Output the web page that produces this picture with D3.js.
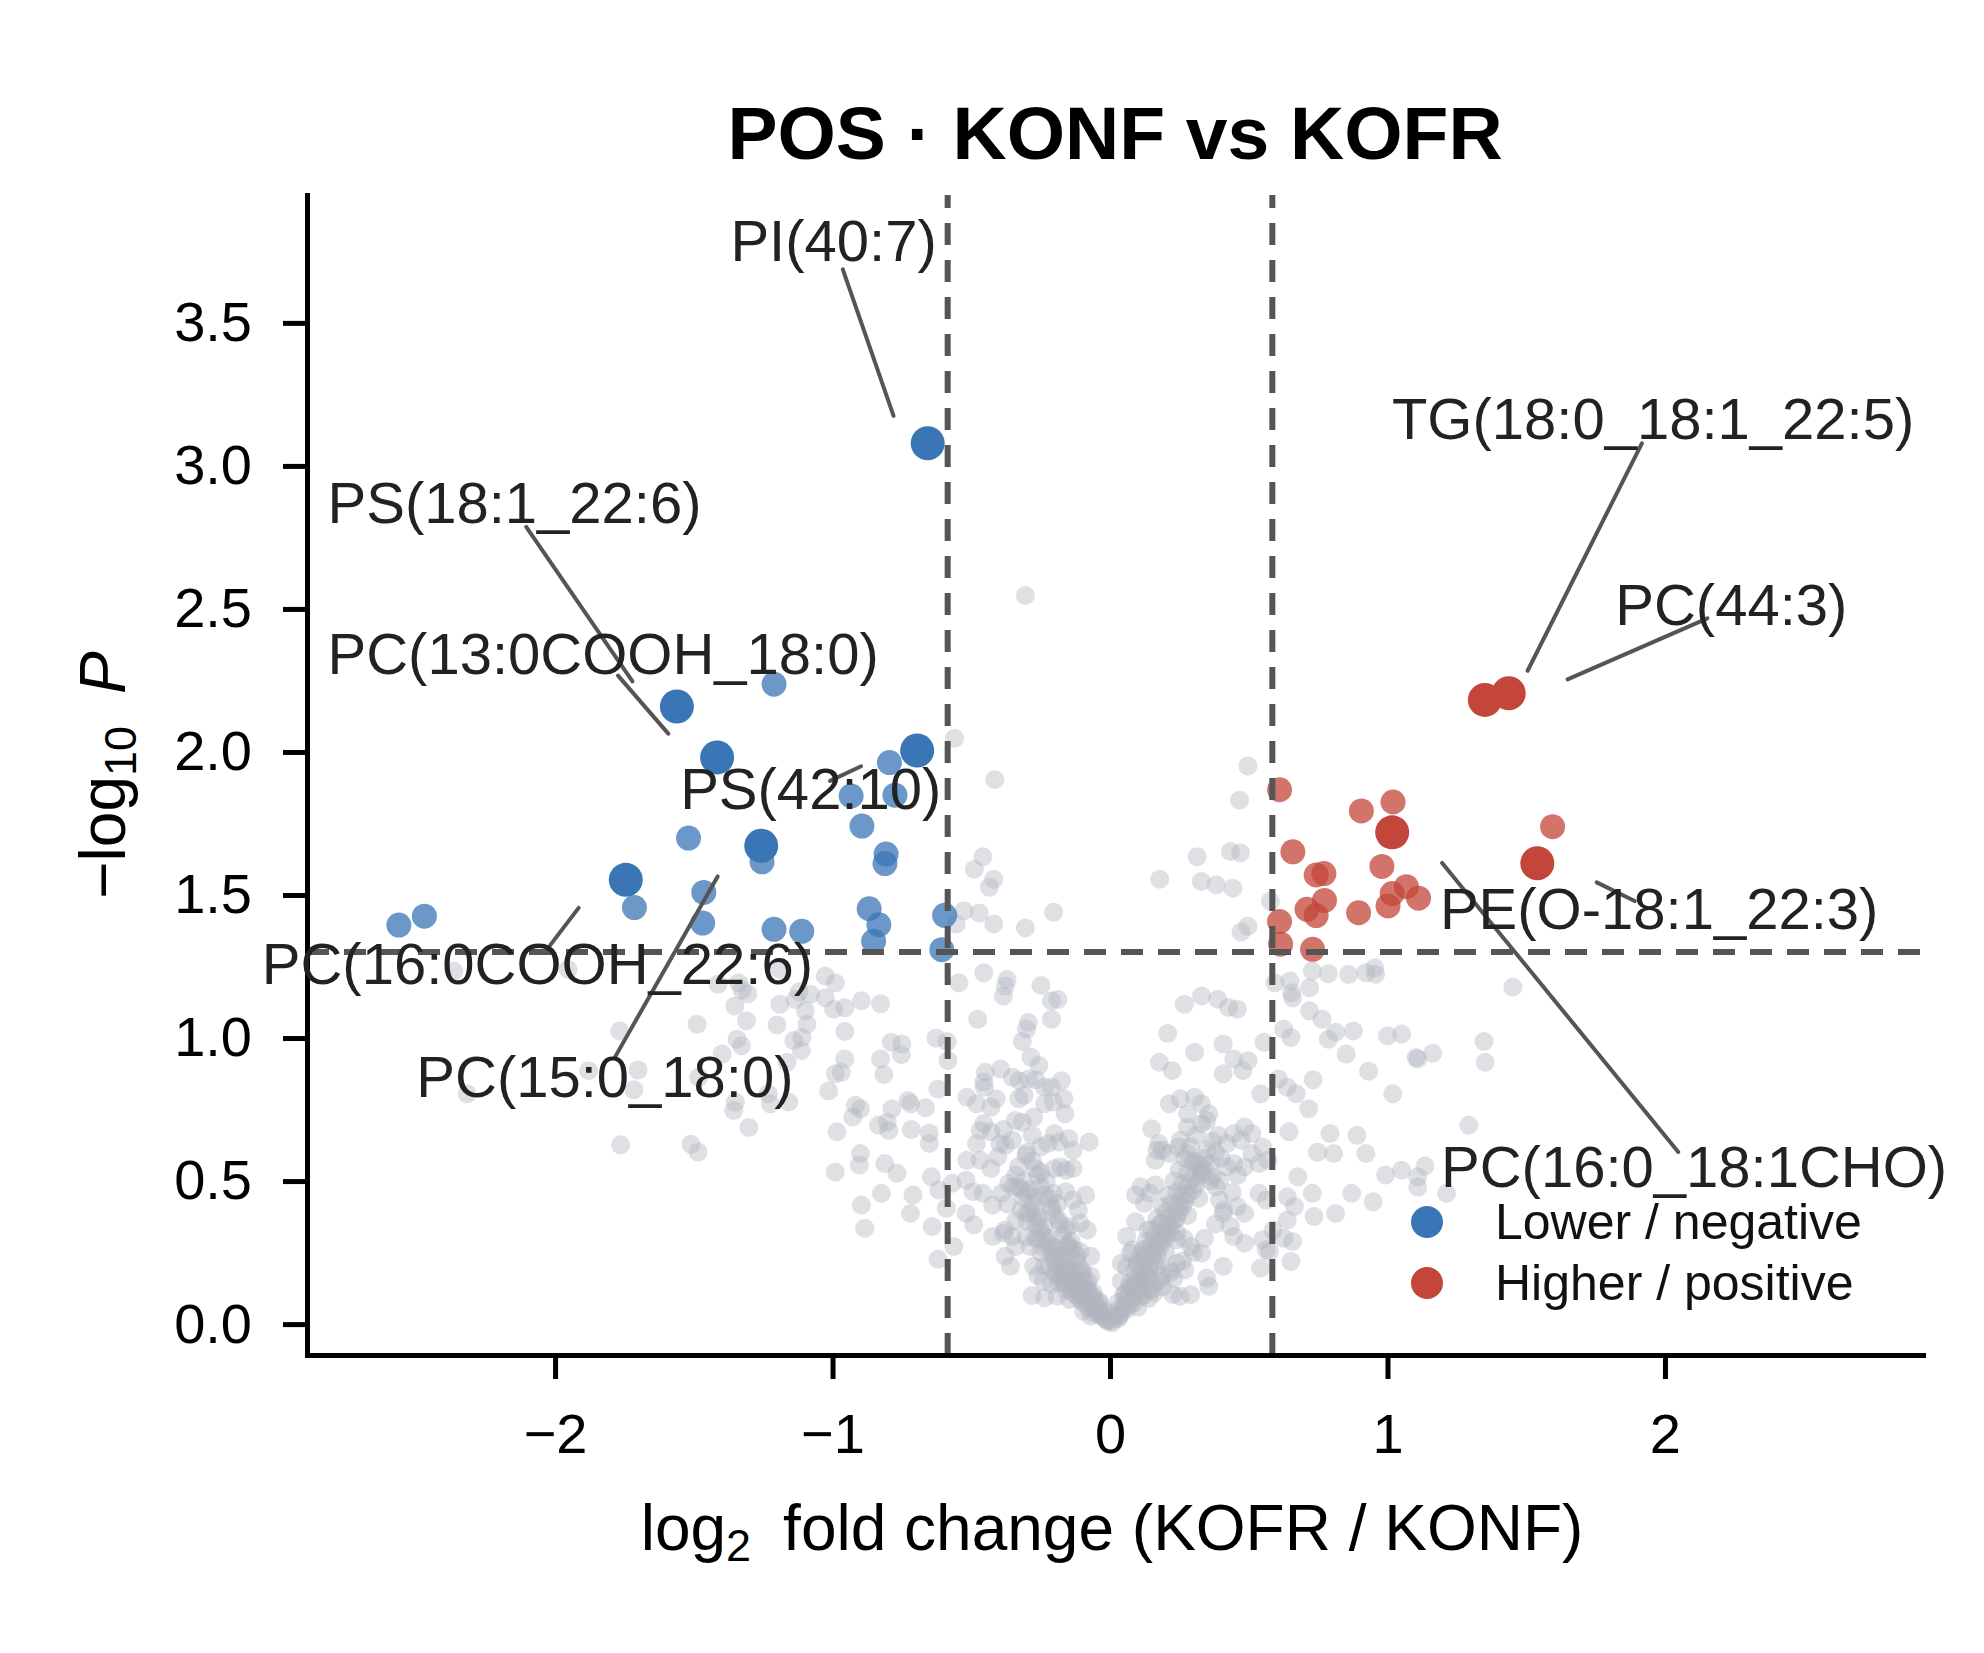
<!DOCTYPE html>
<html>
<head>
<meta charset="utf-8">
<script src="https://cdn.jsdelivr.net/npm/d3@7"></script>
<style>
  html, body { margin: 0; padding: 0; background: #ffffff; }
  svg { display: block; }
  text { font-family: "Liberation Sans", Arial, Helvetica, sans-serif; }
</style>
</head>
<body>
<svg id="chart" width="1984" height="1653"></svg>
<script>
// ---------------- DATA ----------------
const titleText = "POS \u00b7 KONF vs KOFR";
const xTicks = [-2, -1, 0, 1, 2];
const yTicks = [0, 0.5, 1.0, 1.5, 2.0, 2.5, 3.0, 3.5];
const fcThreshold = 0.585;      // log2(1.5)
const pThreshold = 1.301;       // -log10(0.05)
const legendLabels = ["Lower / negative", "Higher / positive"];

// non-significant lipids [log2FC, -log10 P]
const grayPoints = [
  [-0.305,2.547],[-0.560,2.048],[-0.415,1.904],[0.497,1.951],[0.467,1.831],[-0.458,1.634],[-0.489,1.590],
  [-0.419,1.555],[-0.435,1.527],[-0.526,1.445],[-0.471,1.437],[-0.554,1.399],[-0.419,1.399],[-0.305,1.385],
  [-0.203,1.440],[0.179,1.555],[0.314,1.634],[0.329,1.547],[0.383,1.536],[0.443,1.524],[0.434,1.652],
  [0.470,1.648],[0.578,1.478],[0.497,1.391],[0.472,1.371],
  [-1.953,1.240],[-1.413,1.188],[-1.338,1.193],[-1.305,1.155],[-1.352,1.112],[-1.310,1.060],[-1.488,1.048],
  [-1.767,1.025],[-1.190,1.118],[-1.200,1.046],[-1.134,1.135],[-1.098,1.095],[-1.092,1.048],[-1.110,1.002],
  [-1.140,0.991],[-1.112,0.956],[-1.080,1.153],[-1.026,1.217],[-0.990,1.193],[-1.026,1.141],[-0.996,1.101],
  [-0.956,1.106],[-0.896,1.130],[-0.827,1.120],[-0.956,1.023],[-1.344,0.996],[-1.328,0.973],[-1.398,0.944],
  [-1.482,0.863],[-1.164,0.915],[-1.701,0.888],[-1.879,0.886],[-1.716,0.819],[-1.350,0.776],[-1.356,0.747],
  [-1.232,0.805],[-1.224,0.770],[-1.158,0.776],[-1.302,0.687],[-1.764,0.627],[-1.510,0.629],[-1.485,0.602],
  [-1.014,0.815],[-0.990,0.875],[-0.968,0.880],[-0.956,0.927],[-0.827,0.927],[-0.815,0.872],[-0.788,0.985],
  [-0.750,0.979],[-0.752,0.942],[-0.917,0.765],[-0.899,0.753],[-0.927,0.724],[-0.984,0.672],[-0.834,0.695],
  [-0.803,0.706],[-0.797,0.677],[-0.786,0.753],[-0.728,0.782],[-0.719,0.770],[-0.665,0.756],[-0.716,0.680],
  [-0.651,0.668],[-0.651,0.631],[-0.627,0.999],[-0.587,0.988],[-0.584,0.921],[-0.620,0.822],[-0.899,0.596],
  [-0.903,0.556],[-0.812,0.561],[-0.768,0.527],[-0.990,0.532],[-0.824,0.457],[-0.896,0.416],[-0.884,0.335],
  [-0.710,0.451],[-0.719,0.387],[-0.644,0.515],[-0.617,0.469],[-0.590,0.405],[-0.641,0.341],[-0.620,0.227],
  [-0.569,0.492],[-0.563,0.271],[-1.190,1.240],[-2.365,1.234],[-2.317,0.805],[-1.326,1.168],[-1.120,1.162],
  [-0.545,1.193],[-0.455,1.228],[-0.371,1.205],[-0.377,1.182],[-0.384,1.147],[-0.249,1.184],[-0.211,1.130],
  [-0.188,1.135],[-0.211,1.066],[-0.477,1.066],[-0.294,1.054],[-0.301,1.031],[-0.316,0.988],[-0.285,0.933],
  [-0.256,0.904],[-0.449,0.880],[-0.394,0.892],[-0.455,0.846],[-0.453,0.828],[-0.352,0.863],[-0.327,0.851],
  [-0.294,0.857],[-0.268,0.854],[-0.236,0.828],[-0.211,0.828],[-0.175,0.851],[-0.516,0.793],[-0.481,0.770],
  [-0.410,0.788],[-0.429,0.759],[-0.329,0.788],[-0.310,0.799],[-0.236,0.770],[-0.204,0.776],[-0.166,0.788],
  [-0.162,0.735],[-0.275,0.724],[-0.316,0.706],[-0.342,0.712],[-0.455,0.701],[-0.468,0.677],[-0.429,0.672],
  [-0.384,0.680],[-0.397,0.631],[-0.377,0.625],[-0.352,0.643],[-0.481,0.631],[-0.516,0.573],[-0.468,0.573],
  [-0.429,0.544],[-0.404,0.585],[-0.303,0.590],[-0.200,0.666],[-0.223,0.631],[-0.185,0.637],[-0.149,0.649],
  [-0.133,0.608],[-0.075,0.637],[-0.268,0.544],[-0.249,0.532],[-0.200,0.544],[-0.178,0.550],[-0.159,0.538],
  [-0.133,0.544],[-0.519,0.503],[-0.494,0.463],[-0.458,0.457],[-0.423,0.416],[-0.391,0.457],[-0.365,0.492],
  [-0.333,0.480],[-0.519,0.387],[-0.491,0.347],[-0.423,0.306],[-0.378,0.329],[-0.301,0.457],[-0.268,0.445],
  [-0.236,0.451],[-0.204,0.457],[-0.159,0.463],[-0.133,0.434],[-0.088,0.451],[-0.114,0.399],[-0.301,0.387],
  [-0.262,0.376],[-0.211,0.399],[-0.185,0.364],[-0.146,0.341],[-0.108,0.353],[-0.082,0.329],[-0.384,0.318],
  [-0.352,0.306],[-0.301,0.306],[-0.340,0.271],[-0.378,0.237],[-0.359,0.202],[-0.288,0.271],[-0.236,0.266],
  [-0.198,0.260],[-0.146,0.271],[-0.108,0.254],[-0.069,0.237],[-0.275,0.202],[-0.236,0.202],[-0.198,0.213],
  [-0.166,0.202],[-0.133,0.190],[-0.101,0.179],[-0.069,0.167],[-0.281,0.100],[-0.236,0.092],[-0.185,0.144],
  [-0.159,0.121],[-0.133,0.109],[-0.108,0.086],[-0.082,0.068],[-0.056,0.051],[-0.030,0.028],[-0.005,0.010],
  [-0.172,0.173],[-0.133,0.155],[-0.114,0.132],[-0.082,0.121],[-0.062,0.097],[-0.037,0.074],[-0.017,0.045],
  [-0.191,0.097],[-0.146,0.086],[-0.095,0.045],[-0.069,0.028],
  [-0.30,0.60],[-0.28,0.57],[-0.26,0.52],[-0.25,0.48],[-0.23,0.50],[-0.22,0.44],[-0.21,0.41],[-0.20,0.38],
  [-0.19,0.42],[-0.18,0.35],[-0.17,0.31],[-0.16,0.33],[-0.15,0.28],[-0.14,0.24],[-0.13,0.26],[-0.12,0.22],
  [-0.11,0.19],[-0.10,0.16],[-0.09,0.14],[-0.08,0.12],[-0.07,0.10],[-0.06,0.085],[-0.05,0.07],[-0.04,0.055],
  [-0.03,0.04],[-0.02,0.025],[-0.01,0.012],[-0.16,0.22],[-0.14,0.18],[-0.12,0.15],[-0.10,0.12],[-0.09,0.09],
  [-0.24,0.34],[-0.22,0.30],[-0.20,0.27],[-0.18,0.24],[-0.27,0.40],[-0.26,0.36],[-0.31,0.44],[-0.29,0.47],
  [-0.33,0.55],[-0.35,0.48],[-0.37,0.42],[-0.30,0.36],[-0.27,0.30],[-0.25,0.25],[-0.22,0.20],[-0.19,0.18],
  [-0.17,0.15],[-0.21,0.14],[-0.24,0.15],[-0.26,0.17],[-0.32,0.40],[-0.34,0.36],[-0.28,0.66],[-0.25,0.62],
  [-0.02,0.02],[-0.04,0.035],[-0.05,0.05],[-0.06,0.06],[-0.07,0.075],[-0.08,0.09],[-0.09,0.105],[-0.10,0.10],
  [-0.11,0.13],[-0.12,0.12],[-0.13,0.14],[-0.14,0.15],[-0.15,0.17],[-0.16,0.19],[-0.17,0.18],[-0.18,0.20],
  [-0.19,0.22],[-0.20,0.23],[-0.21,0.25],[-0.22,0.27],[-0.23,0.29],[-0.24,0.31],[-0.25,0.33],[-0.26,0.30],
  [-0.27,0.35],[-0.28,0.42],[-0.29,0.39],[-0.31,0.50],[-0.32,0.47],[-0.34,0.52],[-0.06,0.04],[-0.08,0.06],
  [-0.10,0.08],[-0.12,0.10],[-0.14,0.12],[-0.16,0.14],[-0.18,0.16],[-0.20,0.18],[-0.04,0.08],[-0.06,0.11],
  [-0.08,0.15],[-0.10,0.19],[-0.12,0.24],[-0.14,0.29],[-0.16,0.27],
  [0.008,0.005],[0.034,0.028],[0.060,0.051],[0.085,0.074],[0.111,0.097],[0.137,0.121],[0.163,0.144],
  [0.188,0.167],[0.214,0.190],[0.240,0.213],[0.028,0.074],[0.054,0.109],[0.073,0.132],[0.111,0.155],
  [0.124,0.184],[0.098,0.213],[0.073,0.248],[0.124,0.237],[0.150,0.271],[0.176,0.295],[0.041,0.213],
  [0.060,0.306],[0.092,0.451],[0.111,0.480],[0.124,0.422],[0.144,0.457],[0.163,0.486],[0.092,0.358],
  [0.137,0.329],[0.188,0.353],[0.201,0.318],[0.240,0.295],[0.266,0.300],[0.291,0.271],[0.330,0.248],
  [0.349,0.161],[0.356,0.132],[0.291,0.103],[0.227,0.103],[0.253,0.097],[0.150,0.683],[0.176,0.631],
  [0.170,0.608],[0.163,0.573],[0.188,0.608],[0.214,0.596],[0.246,0.619],[0.214,0.770],[0.253,0.788],
  [0.305,0.793],[0.279,0.735],[0.279,0.689],[0.330,0.770],[0.356,0.735],[0.349,0.712],[0.253,0.643],
  [0.279,0.596],[0.305,0.561],[0.330,0.550],[0.330,0.527],[0.369,0.515],[0.395,0.503],[0.382,0.480],
  [0.421,0.631],[0.446,0.666],[0.485,0.689],[0.511,0.666],[0.472,0.643],[0.446,0.561],[0.485,0.550],
  [0.511,0.596],[0.537,0.561],[0.550,0.619],[0.569,0.573],[0.395,0.434],[0.408,0.387],[0.434,0.341],
  [0.459,0.411],[0.485,0.387],[0.537,0.457],[0.563,0.434],[0.446,0.306],[0.485,0.283],[0.408,0.202],
  [0.550,0.295],[0.563,0.260],[0.543,0.196],[0.208,1.016],[0.178,0.915],[0.224,0.886],[0.305,0.950],
  [0.330,1.147],[0.388,1.136],[0.427,1.107],[0.459,1.101],[0.268,1.118],[0.408,0.979],[0.446,0.927],
  [0.498,0.921],[0.479,0.886],[0.408,0.875],[0.555,0.985],[0.543,0.805],
  [0.02,0.03],[0.03,0.05],[0.05,0.07],[0.06,0.09],[0.07,0.11],[0.08,0.13],[0.10,0.15],[0.11,0.17],
  [0.12,0.20],[0.13,0.22],[0.15,0.24],[0.16,0.26],[0.17,0.28],[0.18,0.31],[0.20,0.33],[0.21,0.35],
  [0.22,0.38],[0.24,0.40],[0.25,0.43],[0.26,0.45],[0.28,0.48],[0.29,0.50],[0.31,0.53],[0.32,0.56],
  [0.34,0.58],[0.35,0.61],[0.37,0.64],[0.39,0.66],[0.09,0.19],[0.11,0.24],[0.13,0.29],[0.15,0.33],
  [0.17,0.37],[0.19,0.41],[0.21,0.45],[0.23,0.50],[0.25,0.54],[0.27,0.58],[0.29,0.62],[0.31,0.66],
  [0.33,0.70],[0.12,0.10],[0.15,0.12],[0.18,0.15],[0.22,0.18],[0.26,0.22],[0.30,0.25],[0.34,0.30],
  [0.38,0.35],[0.41,0.40],[0.44,0.46],[0.46,0.52],[0.42,0.55],[0.40,0.58],[0.36,0.50],[0.32,0.44],
  [0.28,0.38],[0.24,0.32],[0.20,0.25],[0.17,0.20],[0.14,0.16],[0.04,0.15],[0.06,0.20],[0.08,0.26],
  [0.01,0.015],[0.03,0.02],[0.04,0.04],[0.05,0.055],[0.07,0.07],[0.08,0.09],[0.09,0.11],[0.10,0.13],
  [0.11,0.12],[0.12,0.15],[0.13,0.17],[0.14,0.19],[0.15,0.21],[0.16,0.22],[0.17,0.24],[0.18,0.27],
  [0.19,0.29],[0.20,0.30],[0.21,0.32],[0.22,0.34],[0.23,0.36],[0.24,0.37],[0.25,0.39],[0.26,0.41],
  [0.27,0.43],[0.28,0.45],[0.30,0.47],[0.31,0.49],[0.33,0.52],[0.34,0.54],[0.36,0.56],[0.38,0.60],
  [0.05,0.10],[0.07,0.14],[0.09,0.16],[0.10,0.21],[0.12,0.26],[0.14,0.27],[0.16,0.31],[0.18,0.35],
  [0.20,0.39],[0.22,0.42],[0.24,0.46],[0.26,0.49],[0.28,0.53],[0.30,0.57],[0.10,0.06],[0.14,0.09],
  [0.16,0.11],[0.19,0.13],[0.23,0.16],[0.27,0.19],
  [0.594,1.193],[0.649,1.199],[0.654,1.158],[0.658,1.141],[0.719,1.176],[0.729,1.234],[0.787,1.225],
  [0.860,1.222],[0.922,1.228],[0.954,1.246],[0.957,1.223],[0.719,1.095],[0.764,1.066],[0.813,1.020],
  [0.787,0.996],[0.877,1.025],[0.851,0.944],[1.000,1.008],[1.051,1.014],[1.103,0.932],[0.626,1.031],
  [0.652,1.002],[0.607,0.857],[0.639,0.828],[0.671,0.805],[0.716,0.753],[0.732,0.854],[0.932,0.884],
  [1.019,0.805],[0.645,0.672],[0.677,0.515],[0.748,0.601],[0.793,0.666],[0.806,0.596],[0.890,0.660],
  [0.922,0.596],[0.993,0.521],[1.051,0.538],[1.109,0.515],[0.639,0.445],[0.665,0.411],[0.729,0.457],
  [0.639,0.364],[0.626,0.300],[0.658,0.289],[0.735,0.376],[0.813,0.387],[0.871,0.457],[0.948,0.428],
  [0.652,0.219],[0.575,0.254],[0.588,0.329],
  [1.452,1.178],[1.348,0.988],[1.352,0.915],[1.109,0.927],[1.163,0.947],[1.293,0.695],[1.135,0.553],
  [1.213,0.457],[1.109,0.479]
];

// significant, lower (blue) and higher (red); "Top" = labelled
const blueTop = [[-0.657,3.079],[-1.561,2.159],[-1.416,1.981],[-0.695,2.005],[-1.257,1.672],[-1.745,1.553]];
const blueOther = [
  [-1.211,2.237],[-0.795,1.963],[-0.775,1.849],[-0.933,1.846],[-1.519,1.699],[-0.894,1.741],[-0.807,1.643],
  [-0.811,1.610],[-1.254,1.616],[-1.714,1.456],[-1.464,1.509],[-1.468,1.402],[-2.563,1.395],[-2.471,1.426],
  [-1.211,1.380],[-1.111,1.373],[-0.868,1.452],[-0.833,1.396],[-0.852,1.338],[-0.596,1.429],[-0.606,1.309]
];
const redTop = [[1.351,2.182],[1.437,2.205],[1.017,1.719],[1.540,1.611]];
const redOther = [
  [0.611,1.868],[0.906,1.794],[1.020,1.825],[1.595,1.739],[0.659,1.651],[0.980,1.600],[0.743,1.570],
  [0.771,1.575],[0.773,1.481],[0.710,1.450],[0.743,1.428],[0.896,1.438],[1.002,1.462],[1.017,1.505],
  [1.068,1.529],[1.112,1.489],[0.611,1.407],[0.615,1.328],[0.730,1.310]
];

// annotation labels (text anchor = left/baseline, in data units) and leader segments
const annLabels = ["PI(40:7)","PS(18:1_22:6)","PC(13:0COOH_18:0)","PS(42:10)","PC(16:0COOH_22:6)",
                   "PC(15:0_18:0)","TG(18:0_18:1_22:5)","PC(44:3)","PE(O-18:1_22:3)","PC(16:0_18:1CHO)"];
const annTextX = [-1.368,-2.820,-2.820,-1.549,-3.057,-2.500,1.016,1.821,1.189,1.193];
const annTextY = [3.717,2.800,2.274,1.802,1.190,0.795,3.093,2.444,1.381,0.480];
const annLineFrom = [[-0.963,3.687],[-2.104,2.787],[-1.773,2.267],[-1.009,1.899],[-2.018,1.324],
                     [-1.783,0.935],[1.917,3.079],[2.153,2.467],[1.754,1.544],[1.197,1.612]];
const annLineTo   = [[-0.780,3.175],[-1.721,2.247],[-1.592,2.064],[-0.897,1.950],[-1.915,1.455],
                     [-1.414,1.565],[1.505,2.284],[1.649,2.254],[1.891,1.479],[2.048,0.602]];

// ---------------- DRAW ----------------
const BLUE = "#3a76b6", RED = "#c4463a", GRAY = "#b0b5bf";
const svg = d3.select("#chart");
svg.append("rect").attr("width", 1984).attr("height", 1653).attr("fill", "#fff");

const x = d3.scaleLinear().domain([-2.894, 2.93]).range([307, 1923]);
const y = d3.scaleLinear().domain([-0.108, 3.947]).range([1355, 195]);

// gray points
svg.append("g").selectAll("circle").data(grayPoints).join("circle")
  .attr("cx", d => x(d[0])).attr("cy", d => y(d[1])).attr("r", 9.5)
  .attr("fill", GRAY).attr("fill-opacity", 0.42);

// colored points
function dots(data, color, r, op) {
  svg.append("g").selectAll("circle").data(data).join("circle")
    .attr("cx", d => x(d[0])).attr("cy", d => y(d[1])).attr("r", r)
    .attr("fill", color).attr("fill-opacity", op);
}
dots(blueOther, BLUE, 12.5, 0.75);
dots(redOther, RED, 12.5, 0.75);
dots(blueTop, BLUE, 17, 1);
dots(redTop, RED, 17, 1);

// threshold lines
const gl = svg.append("g").attr("stroke", "#555").attr("stroke-width", 6).attr("stroke-dasharray", "22,15").attr("fill", "none");
[-fcThreshold, fcThreshold].forEach(v => {
  gl.append("line").attr("x1", x(v)).attr("x2", x(v)).attr("y1", y.range()[0]).attr("y2", y.range()[1]);
});
gl.append("line").attr("x1", x.range()[0]).attr("x2", x.range()[1]).attr("y1", y(pThreshold)).attr("y2", y(pThreshold));

// axes
const xAxis = svg.append("g").attr("transform", `translate(0,${y.range()[0]})`)
  .call(d3.axisBottom(x).tickValues(xTicks).tickSize(24).tickSizeOuter(0).tickPadding(34)
        .tickFormat(d3.format("d")));
const yAxis = svg.append("g").attr("transform", `translate(${x.range()[0]},0)`)
  .call(d3.axisLeft(y).tickValues(yTicks).tickSize(24).tickSizeOuter(0).tickPadding(31)
        .tickFormat(d3.format(".1f")));
[xAxis, yAxis].forEach(g => {
  g.select(".domain").attr("stroke", "#000").attr("stroke-width", 5).attr("stroke-linecap", "square");
  g.selectAll(".tick line").attr("stroke", "#000").attr("stroke-width", 5);
  g.selectAll(".tick text").attr("fill", "#000").attr("font-size", 56)
    .attr("font-family", "'Liberation Sans', Arial, sans-serif");
});

// leader lines
svg.append("g").selectAll("line").data(annLabels).join("line")
  .attr("x1", (d, i) => x(annLineFrom[i][0])).attr("y1", (d, i) => y(annLineFrom[i][1]))
  .attr("x2", (d, i) => x(annLineTo[i][0])).attr("y2", (d, i) => y(annLineTo[i][1]))
  .attr("stroke", "#555").attr("stroke-width", 4).attr("stroke-linecap", "round");

// annotation labels
svg.append("g").selectAll("text").data(annLabels).join("text")
  .attr("x", (d, i) => x(annTextX[i])).attr("y", (d, i) => y(annTextY[i]))
  .attr("font-size", 58).attr("fill", "#222").text(d => d);

// title
svg.append("text").attr("x", (x.range()[0] + x.range()[1]) / 2).attr("y", 159)
  .attr("text-anchor", "middle").attr("font-size", 75).attr("font-weight", "bold").attr("fill", "#000")
  .text(titleText);

// x label
const xl = svg.append("text").attr("x", 1112).attr("y", 1550).attr("text-anchor", "middle")
  .attr("font-size", 64).attr("fill", "#000");
xl.append("tspan").text("log");
xl.append("tspan").attr("font-size", 45).attr("dy", 11).text("2");
xl.append("tspan").attr("dy", -11).text("\u2002fold change (KOFR / KONF)");

// y label
const yl = svg.append("text").attr("transform", `translate(125,${(y.range()[0] + y.range()[1]) / 2}) rotate(-90)`)
  .attr("text-anchor", "middle").attr("font-size", 64).attr("fill", "#000");
yl.append("tspan").text("\u2212log");
yl.append("tspan").attr("font-size", 45).attr("dy", 11).text("10");
yl.append("tspan").attr("dy", -11).text("\u2002");
yl.append("tspan").attr("font-style", "italic").text("P");

// legend
const legColors = [BLUE, RED];
const lg = svg.append("g");
legendLabels.forEach((t, i) => {
  const cy = 1222 + i * 61;
  lg.append("circle").attr("cx", 1427).attr("cy", cy).attr("r", 16).attr("fill", legColors[i]);
  lg.append("text").attr("x", 1495).attr("y", cy + 17).attr("font-size", 50).attr("fill", "#111").text(t);
});
</script>
</body>
</html>
